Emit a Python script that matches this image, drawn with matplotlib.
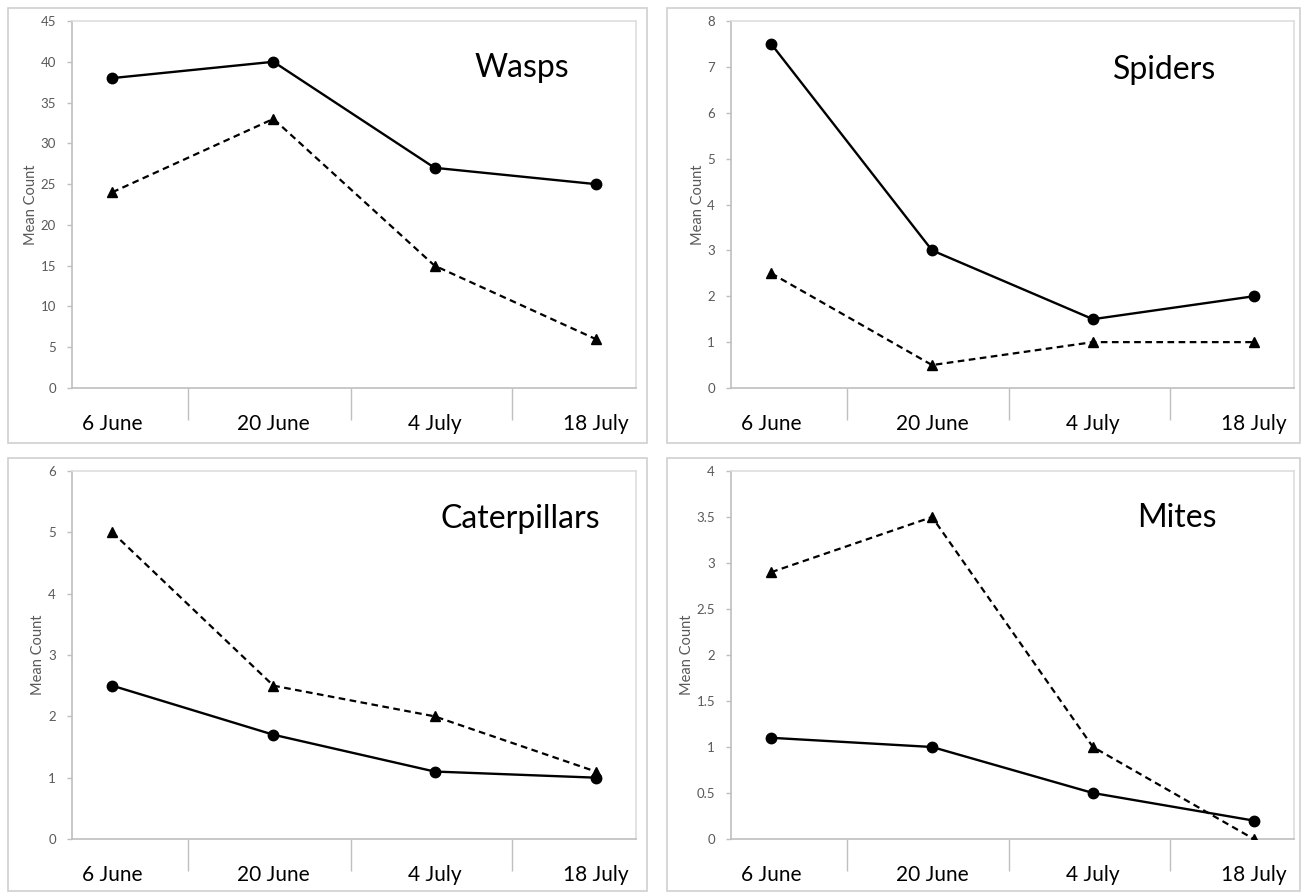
import matplotlib
matplotlib.use("Agg")
import matplotlib.pyplot as plt
from matplotlib.patches import Rectangle
from matplotlib.ticker import FixedLocator, FuncFormatter

plt.rcParams['font.family'] = ['Lato', 'DejaVu Sans']

dates = ["6 June", "20 June", "4 July", "18 July"]

wasps_solid = [38, 40, 27, 25]
wasps_dashed = [24, 33, 15, 6]
spiders_solid = [7.5, 3, 1.5, 2]
spiders_dashed = [2.5, 0.5, 1, 1]
caterpillars_solid = [2.5, 1.7, 1.1, 1.0]
caterpillars_dashed = [5, 2.5, 2, 1.1]
mites_solid = [1.1, 1.0, 0.5, 0.2]
mites_dashed = [2.9, 3.5, 1.0, 0.0]

panels = [
    ("Wasps", wasps_solid, wasps_dashed, 45, 5),
    ("Spiders", spiders_solid, spiders_dashed, 8, 1),
    ("Caterpillars", caterpillars_solid, caterpillars_dashed, 6, 1),
    ("Mites", mites_solid, mites_dashed, 4, 0.5),
]

W, H = 1302, 893
fig = plt.figure(figsize=(W / 100, H / 100), dpi=100)
fig.patch.set_facecolor("white")

def rect(l, t, r, b):
    return [l / W, 1 - b / H, (r - l) / W, (b - t) / H]

axes_px = [(72, 21, 636, 388), (731, 21, 1294, 388),
           (72, 471, 636, 839), (731, 471, 1294, 839)]
frames_px = [(8, 8, 647, 443), (667, 8, 1300, 443),
             (8, 458, 647, 891), (667, 458, 1300, 891)]
title_pos = [(0.798, 0.872), (0.771, 0.866), (0.794, 0.870), (0.792, 0.872)]

for (l, t, r, b) in frames_px:
    fig.add_artist(Rectangle((l / W, 1 - b / H), (r - l) / W, (b - t) / H,
                             transform=fig.transFigure, fill=False,
                             edgecolor="#d0d0d0", linewidth=1.2))

grey_txt = "#595959"
x = list(range(len(dates)))

for i, (name, solid, dashed, ymax, step) in enumerate(panels):
    ax = fig.add_axes(rect(*axes_px[i]))
    ax.plot(x, solid, color="black", linewidth=1.7, marker="o",
            markersize=7.5, zorder=3)
    ax.plot(x, dashed, color="black", linewidth=1.6, linestyle=(0, (3, 2)),
            marker="^", markersize=7, zorder=3)
    ax.set_xlim(-0.25, 3.25)
    ax.set_ylim(0, ymax)
    n = int(round(ymax / step))
    yt = [k * step for k in range(n + 1)]
    ax.yaxis.set_major_locator(FixedLocator(yt))
    ax.yaxis.set_major_formatter(FuncFormatter(lambda v, p: "%g" % v))
    ax.set_xticks(x)
    ax.set_xticklabels(dates, fontsize=15, color="black")
    ax.xaxis.set_minor_locator(FixedLocator([0.47, 1.48, 2.48]))
    ax.tick_params(axis="x", which="major", length=0, pad=19)
    ax.tick_params(axis="x", which="minor", length=23, width=1.0,
                   color="#bfbfbf", direction="out")
    ax.tick_params(axis="y", which="major", length=3.5, width=1.0,
                   color="#bfbfbf", labelsize=9.5, labelcolor=grey_txt, pad=8)
    for s in ["left", "bottom"]:
        ax.spines[s].set_color("#bfbfbf")
        ax.spines[s].set_linewidth(1.2)
    for s in ["top", "right"]:
        ax.spines[s].set_color("#dedede")
        ax.spines[s].set_linewidth(1.2)
    ax.set_ylabel("Mean Count", fontsize=10.5, color=grey_txt, labelpad=2)
    ax.text(title_pos[i][0], title_pos[i][1], name, transform=ax.transAxes,
            fontsize=23, ha="center", va="center", color="black")

fig.savefig("out.png", dpi=100, facecolor="white")
